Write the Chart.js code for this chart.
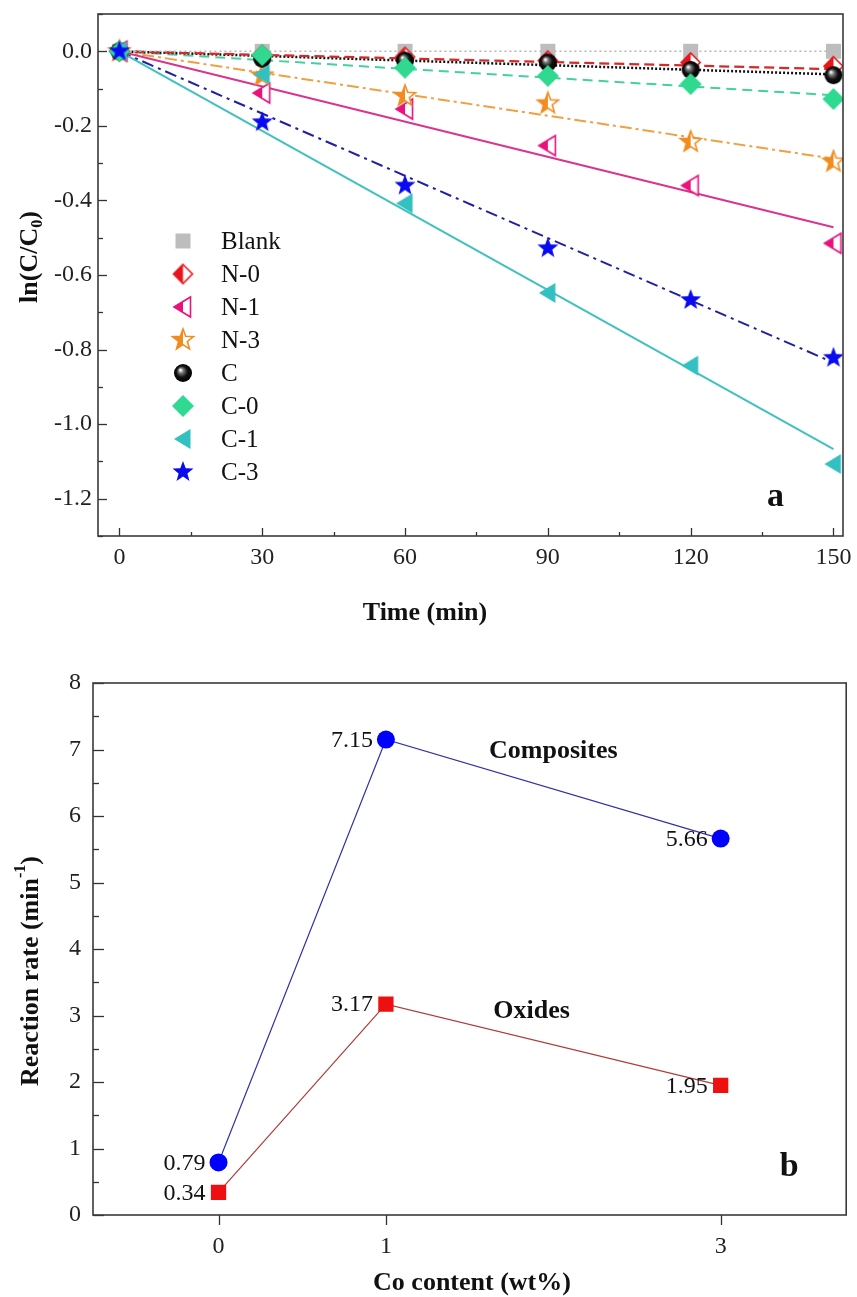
<!DOCTYPE html>
<html lang="en">

<head>
    <meta charset="UTF-8">
    <script src="https://cdn.jsdelivr.net/npm/chart.js@4/dist/chart.umd.min.js"></script>
    <title>Cinetica</title>
    <style>
        body { margin: 0; background: #fff; }
        canvas { position: absolute; left: 0; }
    </style>
</head>

<body>
    <canvas id="graficoA" width="857" height="650" style="top:0"></canvas>
    <canvas id="graficoB" width="857" height="647" style="top:650px"></canvas>
</body>

<script>
    // ---- dati grafico a ----
    var tempi = [0, 30, 60, 90, 120, 150];
    var nomiSerie = ['Blank', 'N-0', 'N-1', 'N-3', 'C', 'C-0', 'C-1', 'C-3'];
    var blank = [0, 0, 0, 0, 0, 0];
    var n0 = [0, -0.01, -0.015, -0.025, -0.03, -0.04];
    var n1 = [0, -0.112, -0.155, -0.253, -0.36, -0.515];
    var n3 = [0, -0.065, -0.12, -0.14, -0.243, -0.296];
    var cc = [0, -0.02, -0.025, -0.03, -0.05, -0.064];
    var c0 = [0, -0.01, -0.044, -0.066, -0.088, -0.128];
    var c1 = [0, -0.062, -0.408, -0.648, -0.843, -1.107];
    var c3 = [0, -0.19, -0.36, -0.528, -0.667, -0.822];
    // rette di fit: valore a 150 min (partono da 0)
    var fitFine = [0, -0.048, -0.472, -0.288, -0.062, -0.118, -1.067, -0.835];
    var taccheTempo = [0, 30, 60, 90, 120, 150];
    var taccheLn = [0, -0.2, -0.4, -0.6, -0.8, -1.0, -1.2];

    // ---- dati grafico b ----
    var contenutoCo = [0, 1, 3];
    var compositi = [0.79, 7.15, 5.66];
    var ossidi = [0.34, 3.17, 1.95];
    var taccheCo = [0, 1, 3];
    var taccheRate = [0, 1, 2, 3, 4, 5, 6, 7, 8];

    var FONT = '"Liberation Serif", "Times New Roman", serif';
    Chart.defaults.font.family = FONT;
    Chart.defaults.color = '#222';

    // simboli disegnati a mano
    function simbolo(lato, disegna) {
        var c = document.createElement('canvas');
        c.width = lato; c.height = lato;
        var g = c.getContext('2d');
        g.translate(lato / 2, lato / 2);
        disegna(g);
        return c;
    }
    function pathQuadrato(g, r) { g.beginPath(); g.rect(-r, -r, 2 * r, 2 * r); }
    function pathRombo(g, r) {
        g.beginPath(); g.moveTo(0, -r); g.lineTo(r, 0); g.lineTo(0, r); g.lineTo(-r, 0); g.closePath();
    }
    function pathTriangolo(g, r) {
        g.beginPath(); g.moveTo(-r * 0.9, 0); g.lineTo(r * 0.75, -r); g.lineTo(r * 0.75, r); g.closePath();
    }
    function pathStella(g, r) {
        g.beginPath();
        for (var k = 0; k < 10; k++) {
            var rr = k % 2 ? r * 0.42 : r;
            var ang = -Math.PI / 2 + k * Math.PI / 5;
            g.lineTo(rr * Math.cos(ang), rr * Math.sin(ang));
        }
        g.closePath();
    }
    function pieno(path, r, colore) {
        return simbolo(2 * r + 4, function(g) { path(g, r); g.fillStyle = colore; g.fill(); });
    }
    function mezzo(path, r, colore) {
        return simbolo(2 * r + 4, function(g) {
            path(g, r); g.fillStyle = '#fff'; g.fill();
            g.save(); path(g, r); g.clip();
            g.fillStyle = colore; g.fillRect(-r - 2, -r - 2, r + 2, 2 * r + 4);
            g.restore();
            path(g, r); g.strokeStyle = colore; g.lineWidth = 1.6; g.stroke();
        });
    }
    function sfera(r) {
        return simbolo(2 * r + 4, function(g) {
            var gr = g.createRadialGradient(-r * 0.3, -r * 0.35, r * 0.05, 0, 0, r);
            gr.addColorStop(0, '#ffffff');
            gr.addColorStop(0.25, '#777');
            gr.addColorStop(0.6, '#111');
            gr.addColorStop(1, '#000');
            g.beginPath(); g.arc(0, 0, r, 0, 2 * Math.PI); g.fillStyle = gr; g.fill();
        });
    }

    var valori = [blank, n0, n1, n3, cc, c0, c1, c3];
    var simboli = [
        pieno(pathQuadrato, 7.5, '#bdbdbd'),
        mezzo(pathRombo, 9.5, '#e8161b'),
        mezzo(pathTriangolo, 10, '#e8137d'),
        mezzo(pathStella, 11, '#f28c1e'),
        sfera(9),
        pieno(pathRombo, 11, '#2fd98f'),
        pieno(pathTriangolo, 10, '#33c0c0'),
        pieno(pathStella, 11, '#0a0af0')
    ];
    var coloriFit = ['#b5b5b5', '#d42a2a', '#d9358f', '#f0a040', '#111', '#45d0a0', '#40c0c0', '#2020a0'];
    var trattiFit = [[2, 3], [10, 5], [], [12, 4, 3, 4], [2, 2], [10, 6], [], [12, 5, 3, 5]];
    var spessoriFit = [1.5, 2.2, 2, 2, 2.5, 2, 2, 2];

    // niente margini extra calcolati dalle etichette
    function senzaPadding(s) {
        s.paddingTop = 0; s.paddingBottom = 0; s.paddingLeft = 0; s.paddingRight = 0;
    }

    // cornice, tacche interne, titoli degli assi, testi
    function testoRicco(ctx, segmenti, cx, cy, rot, size) {
        ctx.save();
        ctx.translate(cx, cy); ctx.rotate(rot);
        var larg = 0;
        segmenti.forEach(function(s) {
            ctx.font = 'bold ' + (s.k ? size * 0.62 : size) + 'px ' + FONT;
            s.w = ctx.measureText(s.t).width; larg += s.w;
        });
        var x = -larg / 2;
        ctx.textBaseline = 'middle'; ctx.textAlign = 'left'; ctx.fillStyle = '#111';
        segmenti.forEach(function(s) {
            ctx.font = 'bold ' + (s.k ? size * 0.62 : size) + 'px ' + FONT;
            var dy = s.k === 'sub' ? size * 0.3 : (s.k === 'sup' ? -size * 0.38 : 0);
            ctx.fillText(s.t, x, dy);
            x += s.w;
        });
        ctx.restore();
    }

    var cornice = {
        id: 'cornice',
        afterDatasetsDraw: function(chart, args, o) {
            var ctx = chart.ctx, a = chart.chartArea;
            ctx.save();
            ctx.strokeStyle = '#333';
            ctx.lineWidth = 1.3;
            o.tacche.forEach(function(t) {
                var sc = chart.scales[t.asse];
                var maggiori = sc.ticks.map(function(tk) { return tk.value; });
                var tutte = maggiori.map(function(v) { return { v: v, l: t.lung }; });
                if (t.passo) {
                    for (var k = Math.ceil(sc.min / t.passo); k <= Math.floor(sc.max / t.passo); k++) {
                        var v = k * t.passo;
                        var gia = maggiori.some(function(m) { return Math.abs(m - v) < 1e-6; });
                        if (!gia) tutte.push({ v: v, l: t.lungMin });
                    }
                }
                tutte.forEach(function(tk) {
                    var p = Math.round(sc.getPixelForValue(tk.v)) + 0.5;
                    ctx.beginPath();
                    if (t.asse === 'x') { ctx.moveTo(p, a.bottom); ctx.lineTo(p, a.bottom - t.verso * tk.l); }
                    else { ctx.moveTo(a.left, p); ctx.lineTo(a.left + t.verso * tk.l, p); }
                    ctx.stroke();
                });
            });
            ctx.strokeStyle = '#3a3a3a';
            ctx.lineWidth = 1.6;
            ctx.strokeRect(a.left, a.top, a.right - a.left, a.bottom - a.top);

            (o.titoli || []).forEach(function(t) {
                testoRicco(ctx, t.segmenti, t.x, t.y, t.rot, 26);
            });
            ctx.fillStyle = '#111';
            ctx.textBaseline = 'middle';
            ctx.textAlign = 'center';
            (o.testi || []).forEach(function(t) {
                ctx.font = t.font;
                ctx.fillText(t.t, chart.scales.x.getPixelForValue(t.x), chart.scales.y.getPixelForValue(t.y));
            });

            if (o.legenda) {
                var L = o.legenda, riga = 0;
                ctx.font = '25px ' + FONT;
                ctx.textAlign = 'left';
                chart.data.datasets.forEach(function(ds) {
                    if (ds.showLine) return;
                    var y = L.y + riga * L.passo;
                    var img = ds.pointStyle;
                    ctx.drawImage(img, L.x - img.width / 2, y - img.height / 2);
                    ctx.fillText(ds.label, L.xTesto, y + 1);
                    riga++;
                });
            }

            if (o.valori) {
                ctx.font = '24px ' + FONT;
                ctx.textAlign = 'right';
                chart.data.datasets.forEach(function(ds, i) {
                    chart.getDatasetMeta(i).data.forEach(function(el, j) {
                        ctx.fillText(ds.data[j].y.toFixed(2), el.x - 13, el.y + 1);
                    });
                });
            }
            ctx.restore();
        }
    };

    function originaGraficoA() {
        var datasets = [];
        nomiSerie.forEach(function(nome, i) {
            datasets.push({
                label: nome,
                data: tempi.map(function(t, j) { return { x: t, y: valori[i][j] }; }),
                showLine: false,
                pointStyle: simboli[i],
                pointRadius: 9,
                pointHoverRadius: 9,
                borderWidth: 0,
                order: nomiSerie.length - 1 - i
            });
        });
        nomiSerie.forEach(function(nome, i) {
            datasets.push({
                label: nome + ' fit',
                data: [{ x: 0, y: 0 }, { x: 150, y: fitFine[i] }],
                showLine: true,
                borderColor: coloriFit[i],
                borderWidth: spessoriFit[i],
                borderDash: trattiFit[i],
                pointRadius: 0,
                order: 20
            });
        });

        var options = {
            responsive: false,
            animation: false,
            layout: { padding: { top: 14, right: 14, left: 0, bottom: 0 } },
            plugins: {
                legend: { display: false },
                tooltip: { enabled: false },
                cornice: {
                    tacche: [
                        { asse: 'x', lung: 8, passo: 15, lungMin: 4, verso: 1 },
                        { asse: 'y', lung: 9, passo: 0.1, lungMin: 5, verso: 1 }
                    ],
                    titoli: [
                        { segmenti: [{ t: 'Time (min)' }], x: 425, y: 613, rot: 0 },
                        { segmenti: [{ t: 'ln(C/C' }, { t: '0', k: 'sub' }, { t: ')' }], x: 30, y: 257, rot: -Math.PI / 2 }
                    ],
                    testi: [{ t: 'a', x: 137.8, y: -1.195, font: 'bold 34px ' + FONT }],
                    legenda: { x: 183, y: 241, passo: 33, xTesto: 221 }
                }
            },
            scales: {
                x: {
                    type: 'linear', min: -4.5, max: 152,
                    afterBuildTicks: function(s) { s.ticks = taccheTempo.map(function(v) { return { value: v }; }); },
                    afterFit: function(s) { s.height = 114; senzaPadding(s); },
                    grid: { display: false, drawTicks: false },
                    border: { display: false },
                    ticks: { font: { size: 24 }, padding: 7, maxRotation: 0, autoSkip: false,
                        callback: function(v) { return String(v); } }
                },
                y: {
                    min: -1.3, max: 0.1,
                    afterBuildTicks: function(s) { s.ticks = taccheLn.map(function(v) { return { value: v }; }); },
                    afterFit: function(s) { s.width = 98; senzaPadding(s); },
                    grid: { display: false, drawTicks: false },
                    border: { display: false },
                    ticks: { font: { size: 24 }, padding: 6, autoSkip: false,
                        callback: function(v) { return v.toFixed(1); } }
                }
            }
        };

        new Chart('graficoA', { type: 'scatter', data: { datasets: datasets }, options: options, plugins: [cornice] });
    }

    function originaGraficoB() {
        var datasets = [
            {
                label: 'Composites',
                data: contenutoCo.map(function(x, j) { return { x: x, y: compositi[j] }; }),
                showLine: true,
                borderColor: '#3232a8',
                borderWidth: 1.2,
                pointStyle: 'circle',
                pointRadius: 9,
                pointBackgroundColor: '#0000ff',
                pointBorderColor: '#0000ff',
                pointBorderWidth: 0
            },
            {
                label: 'Oxides',
                data: contenutoCo.map(function(x, j) { return { x: x, y: ossidi[j] }; }),
                showLine: true,
                borderColor: '#b03a3a',
                borderWidth: 1.2,
                pointStyle: 'rect',
                pointRadius: 10.8,
                pointBackgroundColor: '#ee1010',
                pointBorderColor: '#ee1010',
                pointBorderWidth: 0
            }
        ];

        var options = {
            responsive: false,
            animation: false,
            layout: { padding: { top: 33, right: 7, left: 0, bottom: 0 } },
            plugins: {
                legend: { display: false },
                tooltip: { enabled: false },
                cornice: {
                    tacche: [
                        { asse: 'x', lung: 10, verso: -1 },
                        { asse: 'y', lung: 11, passo: 0.5, lungMin: 6, verso: 1 }
                    ],
                    titoli: [
                        { segmenti: [{ t: 'Co content (wt%)' }], x: 472, y: 633, rot: 0 },
                        { segmenti: [{ t: 'Reaction rate (min' }, { t: '-1', k: 'sup' }, { t: ')' }], x: 31, y: 321, rot: -Math.PI / 2 }
                    ],
                    testi: [
                        { t: 'Composites', x: 2.0, y: 6.97, font: 'bold 26px ' + FONT },
                        { t: 'Oxides', x: 1.87, y: 3.06, font: 'bold 26px ' + FONT },
                        { t: 'b', x: 3.41, y: 0.72, font: 'bold 34px ' + FONT }
                    ],
                    valori: true
                }
            },
            scales: {
                x: {
                    type: 'linear', min: -0.75, max: 3.75,
                    afterBuildTicks: function(s) { s.ticks = taccheCo.map(function(v) { return { value: v }; }); },
                    afterFit: function(s) { s.height = 82; senzaPadding(s); },
                    grid: { display: false, drawTicks: false },
                    border: { display: false },
                    ticks: { font: { size: 24 }, padding: 17, maxRotation: 0, autoSkip: false,
                        callback: function(v) { return String(v); } }
                },
                y: {
                    min: 0, max: 8,
                    afterBuildTicks: function(s) { s.ticks = taccheRate.map(function(v) { return { value: v }; }); },
                    afterFit: function(s) { s.width = 93; senzaPadding(s); },
                    grid: { display: false, drawTicks: false },
                    border: { display: false },
                    ticks: { font: { size: 24 }, padding: 12, autoSkip: false,
                        callback: function(v) { return String(v); } }
                }
            }
        };

        new Chart('graficoB', { type: 'scatter', data: { datasets: datasets }, options: options, plugins: [cornice] });
    }

    originaGraficoA();
    originaGraficoB();
</script>

</html>
